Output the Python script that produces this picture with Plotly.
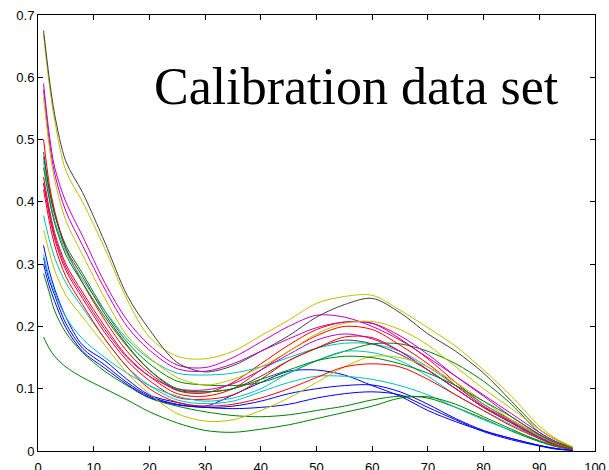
import plotly.graph_objects as go

# Sample positions (x) shared by all spectra
X = [1, 2, 3, 5, 8, 12, 16, 20, 25, 30, 35, 40, 45, 50, 55, 60, 65, 70, 75, 80, 85, 90, 93, 96]

K1 = [.675, .60, .54, .465, .415, .335, .25, .195, .142, .127, .137, .16, .185, .215, .235, .245, .222, .188, .16, .125, .08, .035, .018, .005]
Y1 = [.668, .59, .53, .45, .40, .325, .243, .183, .152, .148, .16, .185, .21, .237, .248, .25, .226, .198, .168, .13, .088, .04, .02, .007]
M1 = [.59, .51, .455, .40, .345, .27, .21, .17, .138, .134, .15, .175, .2, .218, .215, .2, .178, .15, .12, .09, .06, .03, .015, .004]
M2 = [.58, .50, .445, .385, .33, .26, .2, .162, .132, .128, .14, .16, .18, .198, .207, .205, .185, .155, .12, .088, .055, .027, .013, .004]
Y2 = [.568, .49, .435, .37, .315, .245, .185, .15, .118, .106, .115, .135, .16, .188, .205, .208, .195, .17, .135, .1, .068, .035, .018, .006]
R1 = [.50, .43, .385, .325, .27, .21, .16, .125, .097, .093, .11, .14, .17, .195, .207, .205, .18, .148, .11, .075, .05, .025, .012, .004]
R2 = [.44, .39, .35, .30, .255, .2, .152, .12, .092, .088, .1, .13, .16, .185, .2, .195, .17, .14, .105, .072, .047, .022, .01, .003]
R3 = [.43, .38, .34, .29, .245, .19, .145, .113, .086, .083, .09, .115, .145, .165, .183, .182, .16, .13, .1, .07, .045, .02, .01, .003]
R4 = [.42, .37, .33, .28, .235, .18, .135, .1, .078, .072, .075, .085, .1, .118, .135, .14, .135, .115, .09, .065, .04, .02, .009, .003]
G1 = [.472, .42, .38, .33, .285, .225, .175, .14, .112, .106, .105, .11, .125, .145, .16, .172, .172, .16, .14, .112, .075, .03, .015, .005]
G4 = [.455, .405, .365, .315, .27, .215, .168, .13, .1, .095, .1, .115, .13, .145, .152, .15, .14, .125, .105, .08, .055, .026, .013, .004]
K2 = [.48, .42, .38, .325, .28, .22, .17, .13, .098, .095, .1, .12, .145, .165, .178, .172, .155, .13, .1, .07, .045, .022, .01, .003]
C1 = [.465, .41, .37, .32, .275, .225, .18, .148, .125, .122, .125, .135, .15, .165, .173, .172, .16, .135, .105, .075, .048, .024, .011, .003]
M3 = [.43, .385, .345, .295, .25, .195, .15, .12, .1, .098, .108, .13, .155, .178, .188, .18, .16, .13, .1, .07, .046, .022, .01, .003]
Y3 = [.355, .32, .29, .25, .215, .17, .125, .092, .06, .048, .05, .065, .085, .11, .135, .152, .15, .135, .11, .08, .05, .025, .012, .004]
C3 = [.378, .34, .31, .27, .23, .18, .135, .105, .082, .076, .08, .095, .11, .12, .12, .115, .105, .09, .07, .05, .033, .017, .008, .003]
C4 = [.315, .28, .255, .215, .18, .15, .125, .105, .088, .08, .085, .1, .125, .145, .16, .158, .145, .12, .09, .065, .042, .02, .009, .003]
B1 = [.33, .29, .26, .215, .17, .145, .115, .09, .078, .072, .09, .11, .128, .13, .122, .105, .088, .065, .047, .032, .02, .009, .004, .001]
B2 = [.31, .275, .25, .205, .165, .138, .11, .088, .075, .07, .072, .08, .092, .1, .105, .106, .095, .075, .052, .033, .02, .009, .004, .001]
B3 = [.30, .265, .24, .198, .16, .133, .107, .086, .074, .07, .068, .07, .075, .085, .092, .095, .09, .07, .05, .031, .018, .008, .003, .001]
G2 = [.285, .255, .225, .19, .158, .128, .105, .085, .072, .063, .057, .055, .058, .065, .072, .082, .088, .085, .07, .052, .032, .015, .007, .002]
G3 = [.183, .165, .152, .135, .118, .1, .082, .063, .045, .033, .03, .035, .042, .052, .062, .072, .085, .087, .075, .055, .035, .016, .008, .003]

SERIES = [
    ("B1", B1, "b"), ("G1", G1, "g"), ("R1", R1, "r"), ("C1", C1, "c"), ("M1", M1, "m"), ("Y1", Y1, "y"), ("K1", K1, "k"),
    ("B2", B2, "b"), ("G2", G2, "g"), ("R2", R2, "r"), ("C3", C3, "c"), ("M2", M2, "m"), ("Y2", Y2, "y"), ("K2", K2, "k"),
    ("B3", B3, "b"), ("G3", G3, "g"), ("R3", R3, "r"), ("C4", C4, "c"), ("M3", M3, "m"), ("Y3", Y3, "y"),
    ("G4", G4, "g"), ("R4", R4, "r"),
]

COLORS = {"b": "#0000FF", "g": "#008000", "r": "#FF0000", "c": "#00BFBF",
          "m": "#BF00BF", "y": "#BFBF00", "k": "#404040"}

X_TICKS = [0, 10, 20, 30, 40, 50, 60, 70, 80, 90, 100]
Y_TICKS = [0, 0.1, 0.2, 0.3, 0.4, 0.5, 0.6, 0.7]
Y_TICK_TEXT = ["0", "0.1", "0.2", "0.3", "0.4", "0.5", "0.6", "0.7"]

fig = go.Figure()
for name, vals, col in SERIES:
    fig.add_trace(go.Scatter(x=X, y=vals, mode="lines", name=name,
                             line=dict(color=COLORS[col], width=1, shape="spline", smoothing=0.9),
                             hoverinfo="skip"))

axis_common = dict(showline=True, linecolor="black", linewidth=1, mirror="ticks",
                   ticks="inside", ticklen=5, tickcolor="black", showgrid=False,
                   zeroline=False, automargin=False,
                   tickfont=dict(family="Liberation Sans, Arial", size=13, color="black"))

fig.update_layout(
    width=609, height=470,
    margin=dict(l=38, r=14, t=15, b=19),
    paper_bgcolor="white", plot_bgcolor="white",
    showlegend=False,
    xaxis=dict(range=[0, 100], tickvals=X_TICKS, ticklabelstandoff=4, **axis_common),
    yaxis=dict(range=[0, 0.7], tickvals=Y_TICKS, ticktext=Y_TICK_TEXT, **axis_common),
    annotations=[dict(text="Calibration data set", xref="paper", yref="paper",
                      x=0.571, y=0.837, xanchor="center", yanchor="middle", showarrow=False,
                      font=dict(family="Liberation Serif, Times New Roman", size=52, color="black"))],
)

fig.write_html("out.html")
